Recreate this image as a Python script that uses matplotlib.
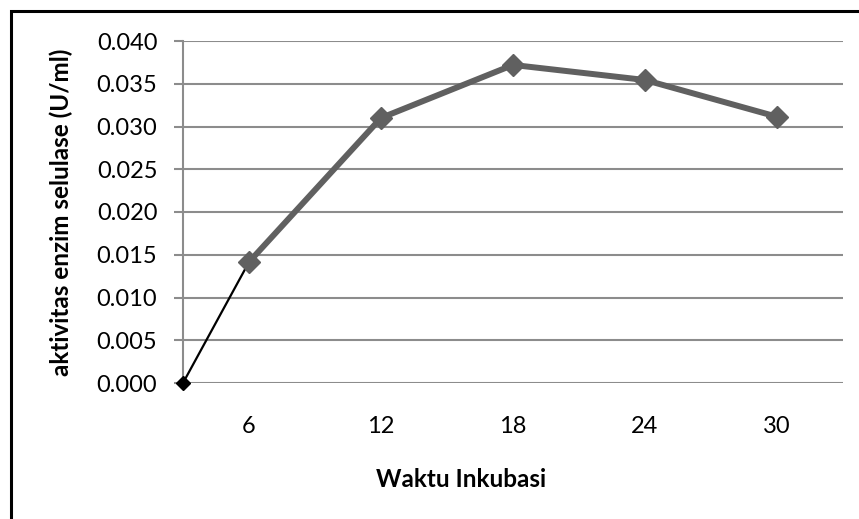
import matplotlib.pyplot as plt
from matplotlib.patches import Rectangle

# data
waktu = ['6', '12', '18', '24', '30']
aktivitas = [0.01415, 0.0310, 0.0372, 0.03544, 0.03114]
y_ticks = [0.000, 0.005, 0.010, 0.015, 0.020, 0.025, 0.030, 0.035, 0.040]

plt.rcParams['font.family'] = ['Lato', 'DejaVu Sans']

fig = plt.figure(figsize=(8.59, 5.19), dpi=100)
ax = fig.add_axes([183 / 859, 1 - 383 / 519, (843 - 183) / 859, (383 - 41) / 519])

pos = list(range(1, len(waktu) + 1))

# black segment from origin to first point
ax.plot([0.5, pos[0]], [0.0, aktivitas[0]], color='black', lw=1.6,
        marker='D', markersize=7, markevery=[0], zorder=3, clip_on=False)

# main series
ax.plot(pos, aktivitas, color='#606060', lw=4.3, marker='D', markersize=11,
        zorder=4, solid_joinstyle='round')

ax.set_xlim(0.5, len(waktu) + 0.5)
ax.set_ylim(0, 0.040)
ax.set_xticks(pos)
ax.set_xticklabels(waktu)
ax.set_yticks(y_ticks)
ax.set_yticklabels([f'{v:.3f}' for v in y_ticks])

ax.grid(axis='y', color='#8c8c8c', lw=1.5)
ax.set_axisbelow(True)
for s in ['top', 'right', 'bottom']:
    ax.spines[s].set_visible(False)
ax.spines['left'].set_color('#8c8c8c')
ax.spines['left'].set_linewidth(1.5)
ax.tick_params(axis='y', length=6.5, width=1.5, color='#8c8c8c', labelsize=17, pad=12)
ax.tick_params(axis='x', length=0, labelsize=17, pad=24)

ax.set_xlabel('Waktu Inkubasi', fontsize=17.5, fontweight='bold')
ax.set_ylabel('aktivitas enzim selulase (U/ml)', fontsize=17.5, fontweight='bold')
ax.xaxis.set_label_coords(0.421, -0.248)
ax.yaxis.set_label_coords(-0.167, 0.5)

# outer frame (only left and top edges visible in the reference)
fig.patches.append(Rectangle((11 / 859, -0.1), 1.2, 1 - 11 / 519 + 0.1,
                             transform=fig.transFigure, fill=False,
                             edgecolor='black', lw=2.2))

fig.savefig('out.png', dpi=100)
